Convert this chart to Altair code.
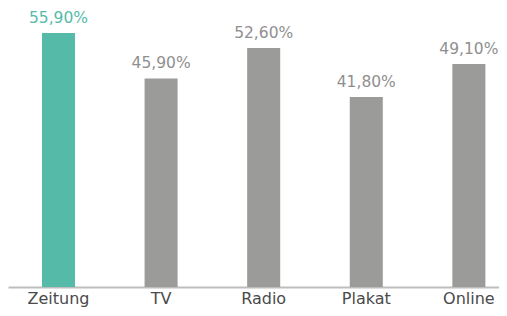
import altair as alt
import pandas as pd

categories = ["Zeitung", "TV", "Radio", "Plakat", "Online"]
values = [55.9, 45.9, 52.6, 41.8, 49.1]
labels = ["55,90%", "45,90%", "52,60%", "41,80%", "49,10%"]
highlight = [True, False, False, False, False]

df = pd.DataFrame({"cat": categories, "val": values, "lab": labels, "hl": highlight})

FONT = "DejaVu Sans"

x = alt.X("cat:N", sort=categories, title=None,
          scale=alt.Scale(paddingInner=0.678, paddingOuter=0.232, align=0.714),
          axis=alt.Axis(labelAngle=0, ticks=False, domainColor="#bdbdbd", domainWidth=2,
                        labelColor="#4a4a4a", labelFont=FONT, labelFontSize=16,
                        labelPadding=3, grid=False))
y = alt.Y("val:Q", title=None, scale=alt.Scale(domain=[0, 61.4], nice=False, zero=True), axis=None)
color = alt.Color("hl:N", scale=alt.Scale(domain=[True, False], range=["#55bba8", "#9b9b99"]), legend=None)
tcolor = alt.Color("hl:N", scale=alt.Scale(domain=[True, False], range=["#55bba8", "#8f8f8f"]), legend=None)

bars = alt.Chart(df).mark_bar().encode(x=x, y=y, color=color)
text = alt.Chart(df).mark_text(dy=-10, font=FONT, fontSize=15.5, baseline="alphabetic").encode(
    x=alt.X("cat:N", sort=categories), y="val:Q", text="lab:N", color=tcolor)

chart = alt.layer(bars, text).resolve_scale(color="independent").properties(
    width=491, height=279, background="white",
    autosize=alt.AutoSizeParams(type="none"),
    padding={"left": 0, "top": 0, "right": 0, "bottom": 21}
).configure_view(stroke=None)

chart.save("out.html", embed_options={"renderer": "svg", "actions": False})
